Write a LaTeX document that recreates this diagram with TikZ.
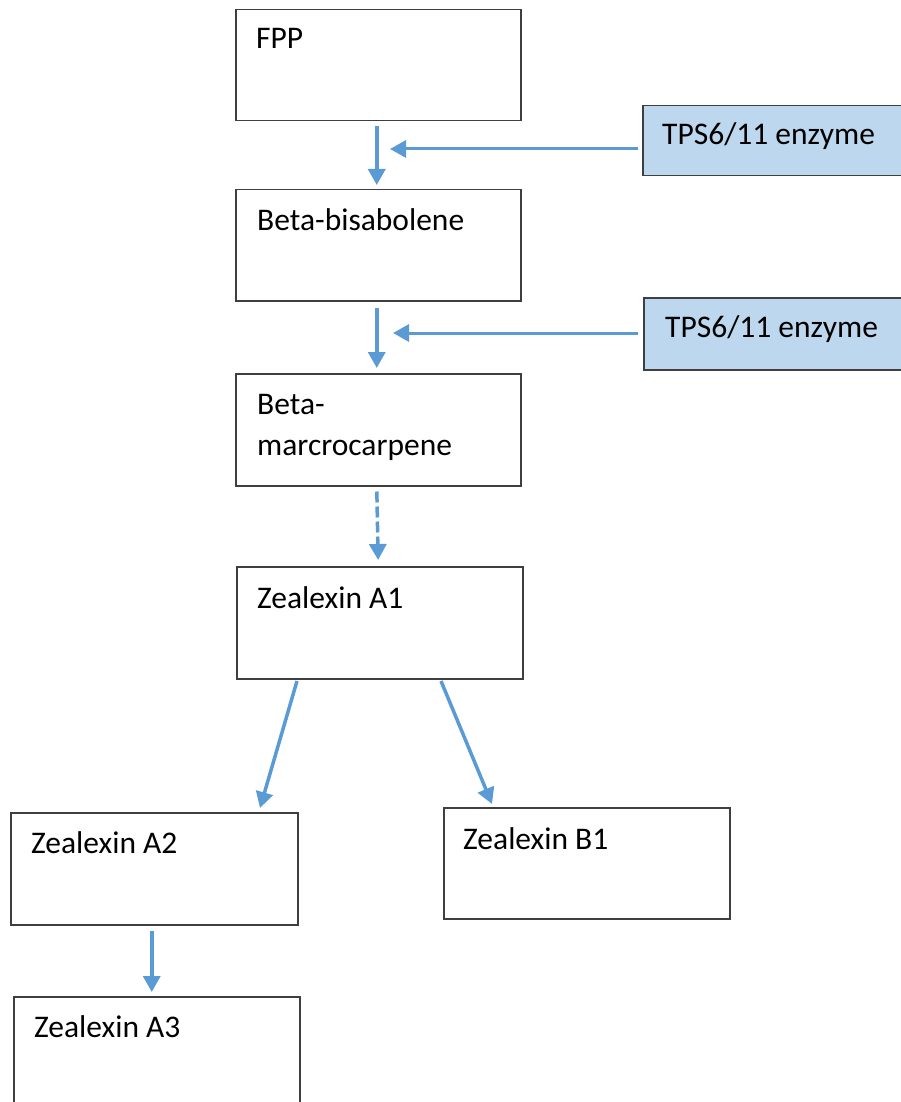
\documentclass[tikz,border=0pt]{standalone}
\usepackage{fontspec}
\setmainfont{Carlito}
\usetikzlibrary{arrows.meta}
\definecolor{arrowblue}{HTML}{5B9BD5}
\definecolor{enzfill}{HTML}{BDD7EE}
\definecolor{boxgray}{HTML}{3F3F3F}
\begin{document}
\begin{tikzpicture}[x=1pt,y=-1pt,
  box/.style={draw=boxgray,line width=1.5pt,fill=white,inner sep=0pt,anchor=north west},
  enzbox/.style={box,fill=enzfill},
  lbl/.style={anchor=base west,inner sep=0pt,font=\fontsize{31.5}{41.4}\selectfont,align=left},
  arr/.style={draw=arrowblue,line width=3.5pt,-{Triangle[width=17pt,length=16pt]}},
  dasharr/.style={arr,dash pattern=on 11pt off 4pt},
]
\useasboundingbox (0,0) rectangle (901,1102);
\begin{scope}
\clip (0,0) rectangle (901,1102);
% boxes
\node[box,minimum width=285pt,minimum height=111pt] (fpp) at (235,9) {};
\node[box,minimum width=285pt,minimum height=111pt] (bb) at (235,189) {};
\node[box,minimum width=285pt,minimum height=112pt] (bm) at (235,373) {};
\node[box,minimum width=286pt,minimum height=112pt] (a1) at (236,566) {};
\node[box,minimum width=287pt,minimum height=112pt] (a2) at (10,812) {};
\node[box,minimum width=286pt,minimum height=111pt] (b1) at (443,807) {};
\node[box,minimum width=286pt,minimum height=130pt] (a3) at (13,996) {};
\node[enzbox,minimum width=259pt,minimum height=70pt] (e1) at (642,105) {};
\node[enzbox,minimum width=258pt,minimum height=72pt] (e2) at (643,297) {};
% labels
\node[lbl] (tfpp) at (256,49) {FPP};
\node[lbl] (tbb) at (257,230) {Beta-bisabolene};
\node[lbl] (tbm) at (257,455.5) {Beta-\\marcrocarpene};
\node[lbl] (ta1) at (257,608) {Zealexin A1};
\node[lbl] (ta2) at (31,853) {Zealexin A2};
\node[lbl] (tb1) at (463,849) {Zealexin B1};
\node[lbl] (ta3) at (34,1037) {Zealexin A3};
\node[lbl] (te1) at (662,145) {TPS6/11 enzyme};
\node[lbl] (te2) at (665,337) {TPS6/11 enzyme};
% coordinates
\coordinate (t1) at (390,149);
\coordinate (t2) at (393,333);
\coordinate (s1) at (297,681);
\coordinate (d1) at (260,808);
\coordinate (s2) at (441,681);
\coordinate (d2) at (492,804);
% connectors
\draw[arr,shorten <=5pt,shorten >=4pt] ([xshift=-1.5pt]fpp.south) -- ([xshift=-1.5pt]bb.north);
\draw[arr,line width=3pt,shorten <=4pt] (e1.west |- t1) -- (t1);
\draw[arr,shorten <=6pt,shorten >=5pt] ([xshift=-1.5pt]bb.south) -- ([xshift=-1.5pt]bm.north);
\draw[arr,line width=3pt,shorten <=5pt] (e2.west |- t2) -- (t2);
\draw[dasharr,shorten <=5pt,shorten >=6pt] ([xshift=-1.5pt]bm.south) -- ([xshift=-1.5pt]a1.north);
\draw[arr] (s1) -- (d1);
\draw[arr] (s2) -- (d2);
\draw[arr,shorten <=5pt,shorten >=4pt] ([xshift=-2.5pt]a2.south) -- ([xshift=-5pt]a3.north);
\end{scope}
\end{tikzpicture}
\end{document}
